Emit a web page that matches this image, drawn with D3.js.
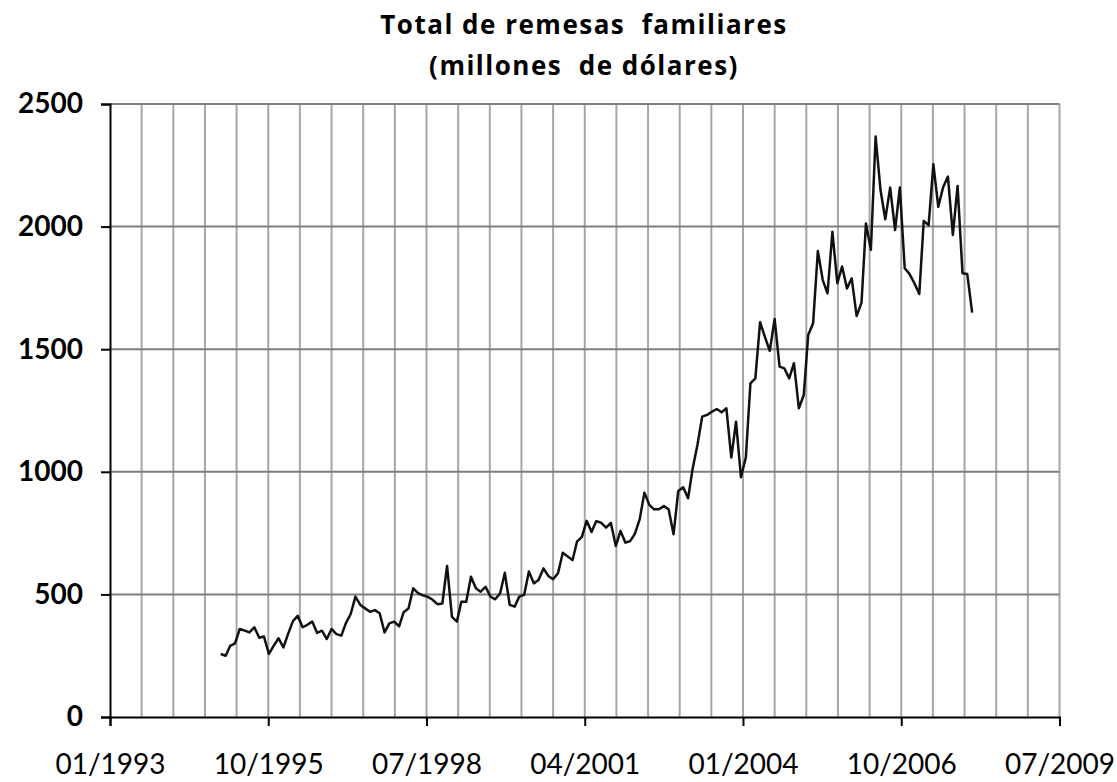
<!DOCTYPE html>
<html>
<head>
<meta charset="utf-8">
<script src="https://cdn.jsdelivr.net/npm/d3@7"></script>
<style>
  body { margin: 0; background: #fff; }
  text { font-family: Lato, "Open Sans", sans-serif; }
</style>
</head>
<body>
<div class="chart"></div>
<script>
// chart texts
const titleLines = ["Total de remesas  familiares", "(millones  de dólares)"];

// monthly series, first value is January 1995 (millions of dollars)
const firstYear = 1995;
const remesas = [
  257, 250, 290, 300, 359, 352, 345, 366, 323, 328, 257, 290,   // 1995
  321, 284, 338, 391, 413, 366, 376, 389, 343, 352, 318, 359,   // 1996
  338, 332, 382, 420, 491, 457, 443, 429, 436, 423, 345, 382,   // 1997
  389, 370, 427, 442, 525, 505, 496, 490, 478, 460, 463, 616,   // 1998
  408, 389, 470, 470, 572, 525, 511, 531, 491, 480, 504, 588,   // 1999
  457, 450, 491, 498, 593, 545, 559, 606, 575, 562, 586, 670,   // 2000
  655, 640, 715, 735, 800, 755, 799, 792, 772, 792, 697, 759,   // 2001
  711, 718, 746, 806, 915, 865, 847, 847, 860, 847, 745, 922,   // 2002
  937, 892, 1010, 1109, 1225, 1232, 1245, 1256, 1243, 1259, 1058, 1204, // 2003
  978, 1059, 1361, 1381, 1610, 1549, 1493, 1623, 1429, 1422, 1381, 1443, // 2004
  1259, 1313, 1558, 1606, 1900, 1782, 1728, 1979, 1769, 1837, 1748, 1789, // 2005
  1635, 1690, 2013, 1905, 2367, 2149, 2030, 2159, 1986, 2159, 1830, 1807, // 2006
  1769, 1725, 2023, 2006, 2254, 2081, 2159, 2204, 1966, 2166, 1810, 1807, // 2007
  1649                                                          // 2008
];

// axis ticks: y values, and x as Excel date serials (major every 1000 days, minor every 200)
const yTicks = [0, 500, 1000, 1500, 2000, 2500];
const xMajorSerials = [34000, 35000, 36000, 37000, 38000, 39000, 40000];
const xMinorStep = 200;

function serialToDate(s) {
  // Excel day serial -> UTC date
  return new Date(Date.UTC(1899, 11, 30) + s * 864e5);
}

const draw = () => {
  const width = 1117, height = 782;
  const margin = { top: 104, right: 57.5, bottom: 65, left: 110 };

  const svg = d3.select(".chart")
    .append("svg")
    .attr("width", width)
    .attr("height", height);

  const data = remesas.map((v, i) => ({
    date: new Date(Date.UTC(firstYear, i, 1)),
    value: v
  }));

  const x = d3.scaleUtc()
    .domain([serialToDate(xMajorSerials[0]), serialToDate(xMajorSerials[xMajorSerials.length - 1])])
    .range([margin.left, width - margin.right]);

  const y = d3.scaleLinear()
    .domain([0, 2500])
    .range([height - margin.bottom, margin.top]);

  // vertical grid lines (every 200 days)
  const minorSerials = d3.range(xMajorSerials[0] + xMinorStep, xMajorSerials[xMajorSerials.length - 1] + 1, xMinorStep);
  svg.append("g")
    .selectAll("line")
    .data(minorSerials)
    .join("line")
    .attr("x1", (d) => x(serialToDate(d)))
    .attr("x2", (d) => x(serialToDate(d)))
    .attr("y1", y(0))
    .attr("y2", y(2500))
    .attr("stroke", "#a6a6a6")
    .attr("stroke-width", 2);

  // horizontal grid lines
  svg.append("g")
    .selectAll("line")
    .data(yTicks.slice(1))
    .join("line")
    .attr("x1", margin.left)
    .attr("x2", width - margin.right)
    .attr("y1", (d) => y(d))
    .attr("y2", (d) => y(d))
    .attr("stroke", "#7f7f7f")
    .attr("stroke-width", 2);

  // y axis
  const yAxis = svg.append("g")
    .attr("transform", "translate(" + margin.left + ",0)")
    .call(d3.axisLeft(y).tickValues(yTicks).tickSize(9).tickPadding(18).tickFormat(d3.format("d")));
  yAxis.select(".domain").attr("stroke", "#000").attr("stroke-width", 2);
  yAxis.selectAll(".tick line").attr("stroke", "#000").attr("stroke-width", 2);
  yAxis.selectAll("text")
    .attr("fill", "#000")
    .style("font-size", "28px")
    .style("font-weight", "700");

  // x axis
  const xAxis = svg.append("g")
    .attr("transform", "translate(0," + y(0) + ")")
    .call(d3.axisBottom(x)
      .tickValues(xMajorSerials.map(serialToDate))
      .tickSize(9)
      .tickPadding(28)
      .tickFormat(d3.utcFormat("%m/%Y")));
  xAxis.select(".domain").attr("stroke", "#000").attr("stroke-width", 2);
  xAxis.selectAll(".tick line").attr("stroke", "#000").attr("stroke-width", 2);
  xAxis.selectAll("text")
    .attr("fill", "#000")
    .style("font-size", "28px")
    .style("font-weight", "400");

  // series line
  svg.append("path")
    .datum(data)
    .attr("fill", "none")
    .attr("stroke", "#111")
    .attr("stroke-width", 2.5)
    .attr("stroke-linejoin", "round")
    .attr("d", d3.line()
      .x((d) => x(d.date))
      .y((d) => y(d.value)));

  // title
  svg.append("g")
    .selectAll("text")
    .data(titleLines)
    .join("text")
    .attr("x", 584)
    .attr("y", (d, i) => 34 + i * 41)
    .attr("text-anchor", "middle")
    .style("white-space", "pre")
    .style("font-family", "'Open Sans', Lato, sans-serif")
    .style("font-size", "26px")
    .style("font-weight", "700")
    .style("letter-spacing", "1.5px")
    .attr("fill", "#000")
    .text((d) => d);
};

draw();
</script>
</body>
</html>
